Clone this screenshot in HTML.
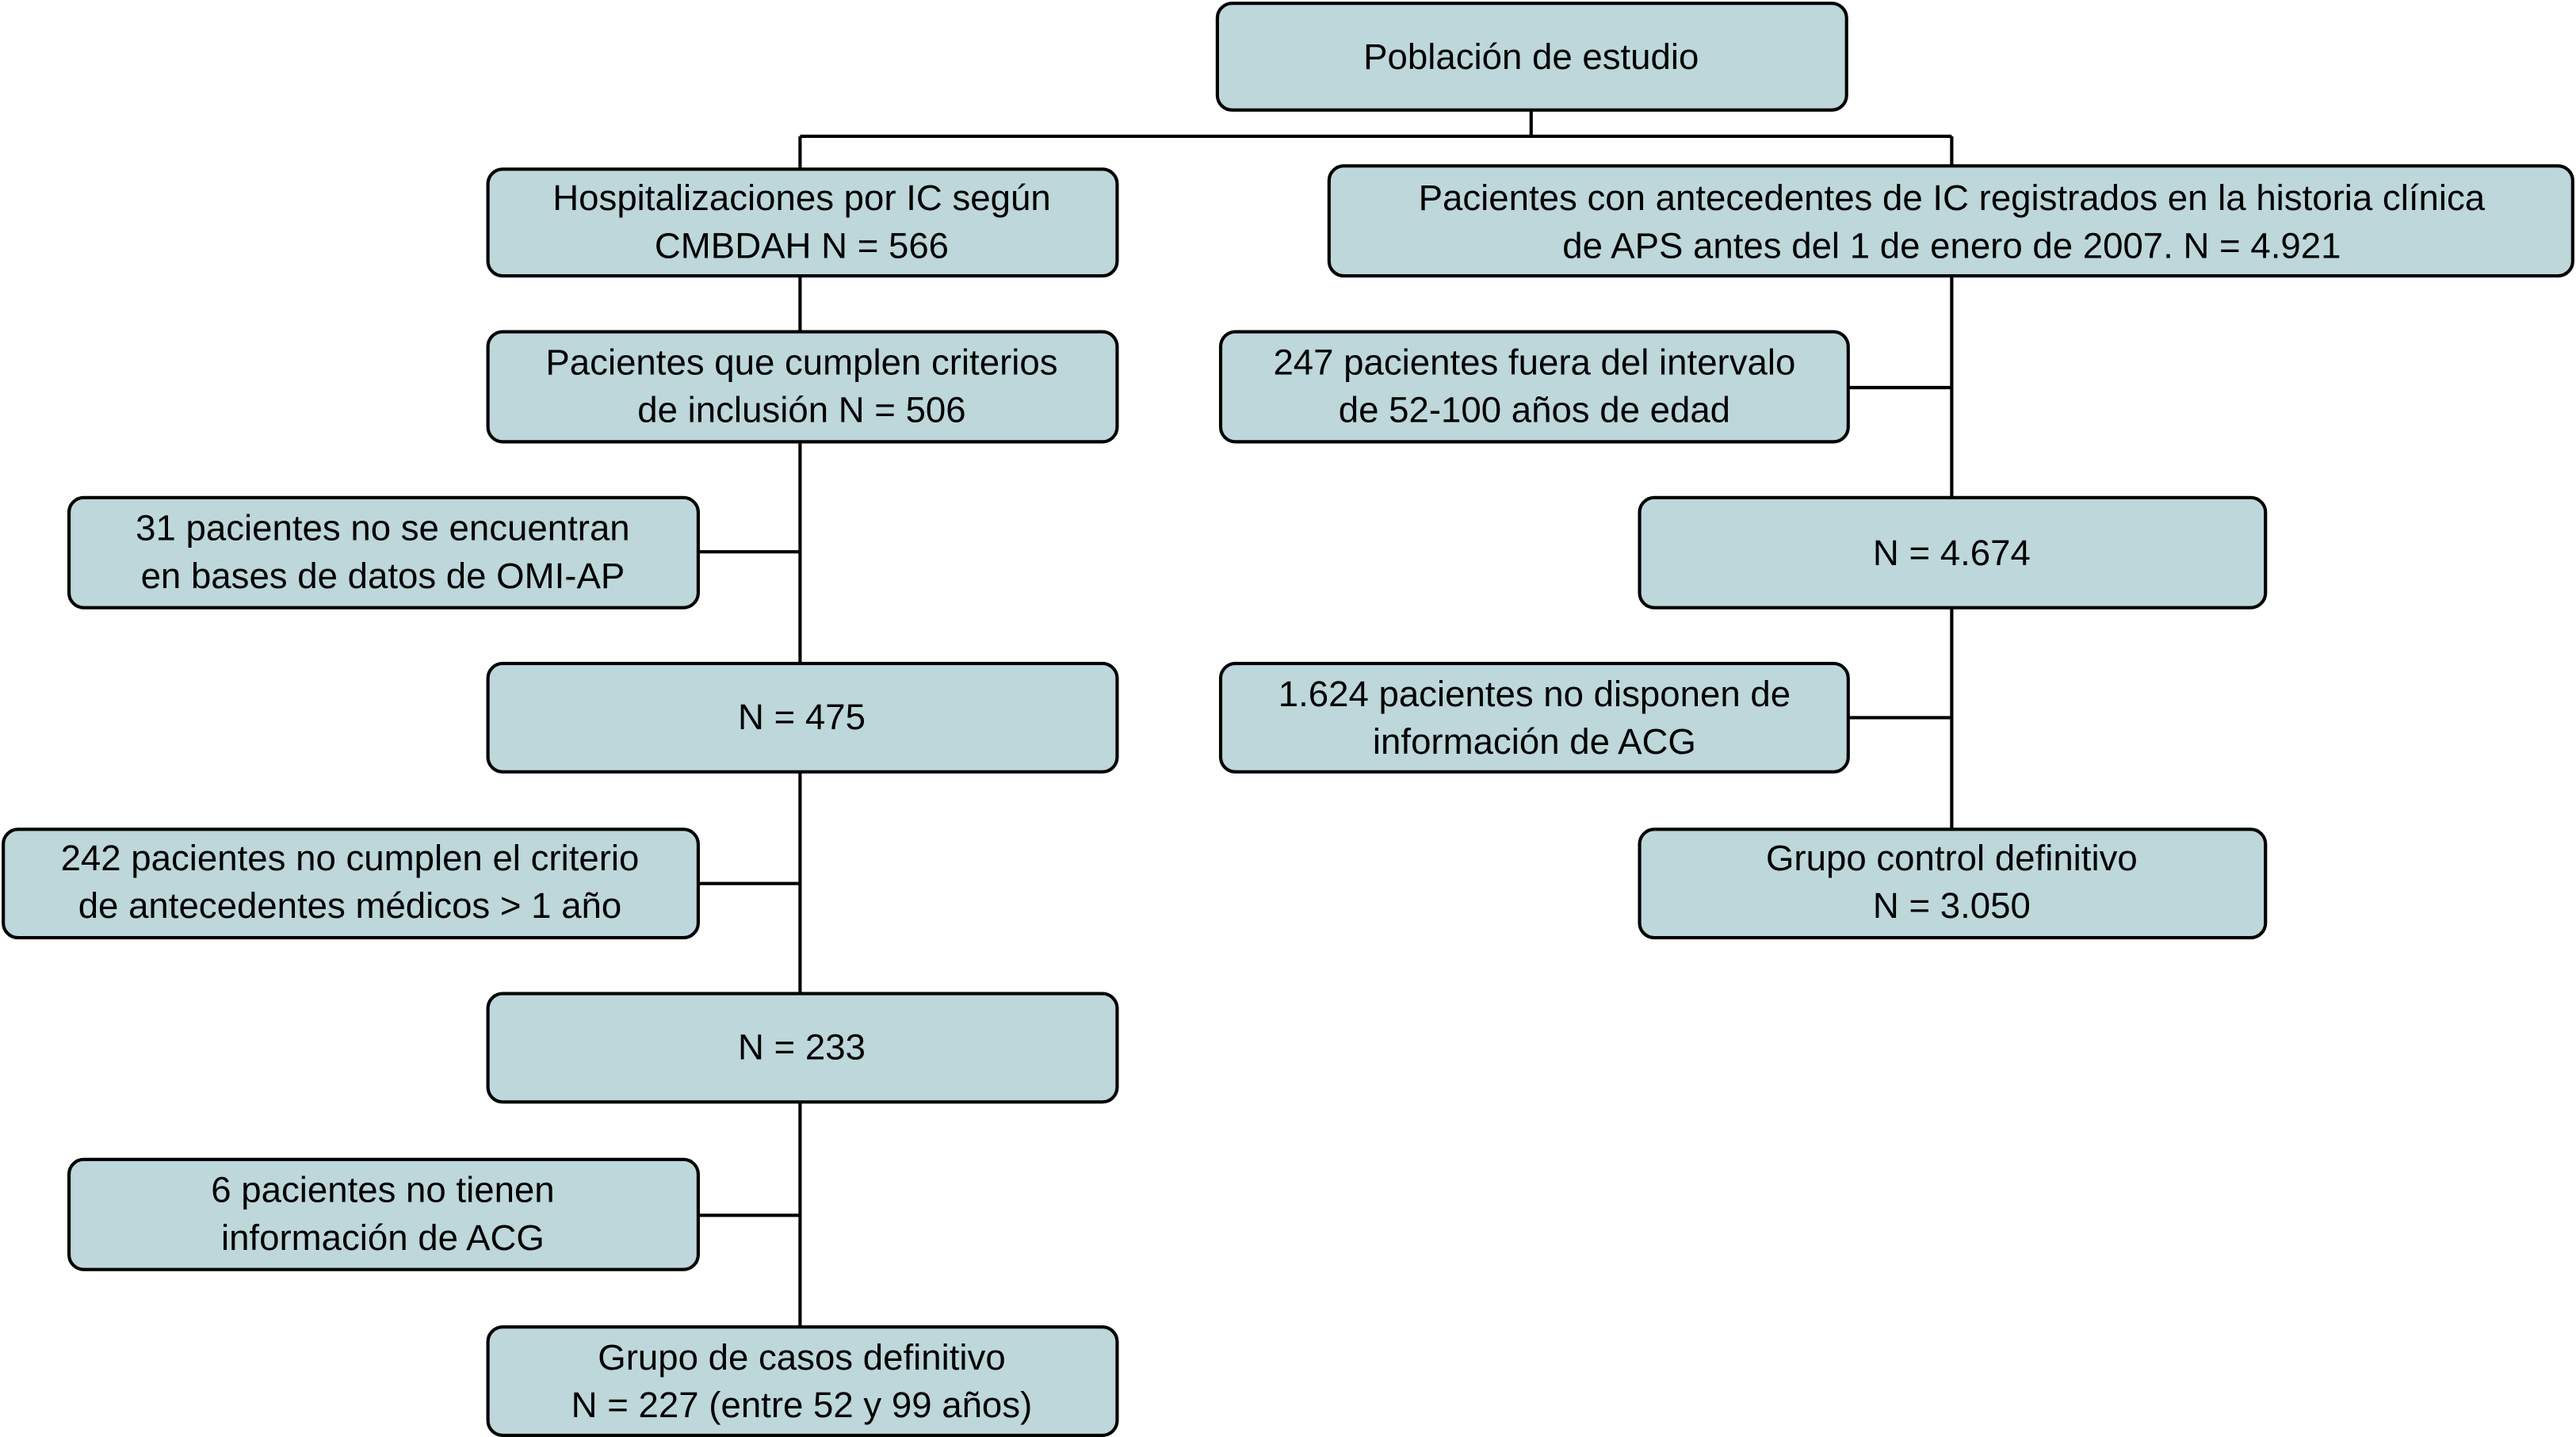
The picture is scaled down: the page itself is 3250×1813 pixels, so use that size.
<!DOCTYPE html>
<html><head><meta charset="utf-8"><style>html,body{margin:0;padding:0;background:#fff}svg{display:block}</style></head>
<body>
<svg width="3250" height="1813" viewBox="0 0 1568 875" preserveAspectRatio="none" xmlns="http://www.w3.org/2000/svg">
<g stroke="#000" stroke-width="2" fill="none">
<path d="M932 67V83M487 83H1188M487 83V103M1188 83V101"/>
<path d="M487 168V808M425 336H487M425 538H487M425 740H487"/>
<path d="M1188 168V505M1125 236H1188M1125 437H1188"/>
</g>
<g fill="#bdd7da" stroke="#000" stroke-width="2">
<rect x="741" y="2" width="383" height="65" rx="9"/>
<rect x="297" y="103" width="383" height="65" rx="9"/>
<rect x="809" y="101" width="757" height="67" rx="9"/>
<rect x="297" y="202" width="383" height="67" rx="9"/>
<rect x="42" y="303" width="383" height="67" rx="9"/>
<rect x="297" y="404" width="383" height="66" rx="9"/>
<rect x="2" y="505" width="423" height="66" rx="9"/>
<rect x="297" y="605" width="383" height="66" rx="9"/>
<rect x="42" y="706" width="383" height="67" rx="9"/>
<rect x="297" y="808" width="383" height="66" rx="9"/>
<rect x="743" y="202" width="382" height="67" rx="9"/>
<rect x="998" y="303" width="381" height="67" rx="9"/>
<rect x="743" y="404" width="382" height="66" rx="9"/>
<rect x="998" y="505" width="381" height="66" rx="9"/>
</g>
<g font-family="'Liberation Sans', sans-serif" font-size="22" text-anchor="middle" fill="#000">
<text x="932" y="42">Población de estudio</text>
<text x="488" y="128">Hospitalizaciones por IC según</text>
<text x="488" y="157">CMBDAH N = 566</text>
<text x="1188" y="128">Pacientes con antecedentes de IC registrados en la historia clínica</text>
<text x="1188" y="157">de APS antes del 1 de enero de 2007. N =  4.921</text>
<text x="488" y="228">Pacientes que cumplen criterios</text>
<text x="488" y="257">de inclusión N = 506</text>
<text x="233" y="329">31 pacientes no se encuentran</text>
<text x="233" y="358">en bases de datos de OMI-AP</text>
<text x="488" y="444">N = 475</text>
<text x="213" y="530">242 pacientes no cumplen el criterio</text>
<text x="213" y="559">de antecedentes médicos &gt; 1 año</text>
<text x="488" y="645">N = 233</text>
<text x="233" y="732">6 pacientes no tienen</text>
<text x="233" y="761">información de ACG</text>
<text x="488" y="834">Grupo de casos definitivo</text>
<text x="488" y="863">N = 227 (entre 52 y 99 años)</text>
<text x="934" y="228">247 pacientes fuera del intervalo</text>
<text x="934" y="257">de 52-100 años de edad</text>
<text x="1188" y="344">N = 4.674</text>
<text x="934" y="430">1.624 pacientes no disponen de</text>
<text x="934" y="459">información de ACG</text>
<text x="1188" y="530">Grupo control definitivo</text>
<text x="1188" y="559">N = 3.050</text>
</g>
</svg>
</body></html>
